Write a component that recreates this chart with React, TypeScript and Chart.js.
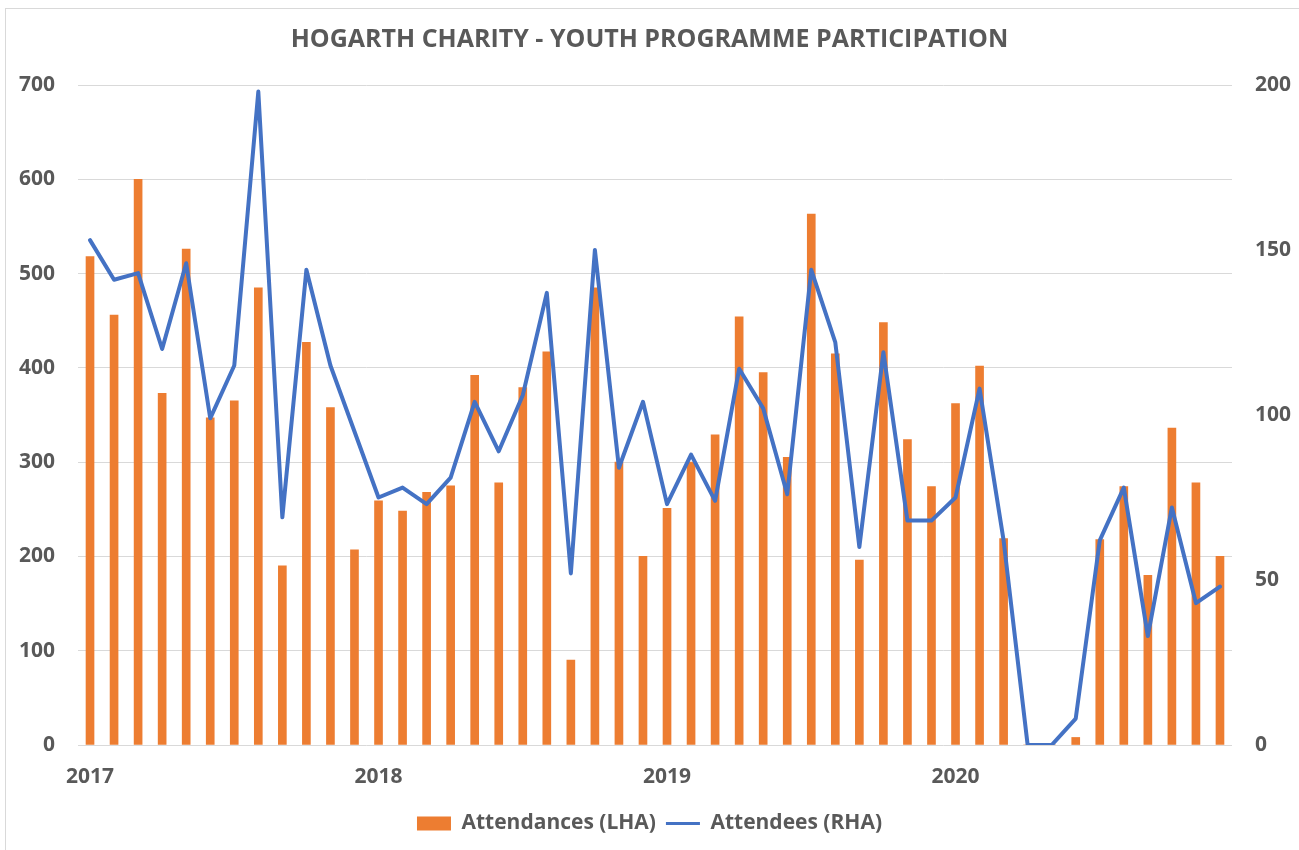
import React, { useEffect, useRef } from "react";
import { Chart, registerables } from "chart.js";

Chart.register(...registerables);

const years = ["2017", "2018", "2019", "2020"];
const monthNames = ["Jan", "Feb", "Mar", "Apr", "May", "Jun", "Jul", "Aug", "Sep", "Oct", "Nov", "Dec"];
const categories: string[] = years.flatMap((y) => monthNames.map((m) => `${m} ${y}`));

const attendances = [
  518, 456, 600, 373, 526, 347, 365, 485, 190, 427, 358, 207,
  259, 248, 268, 275, 392, 278, 379, 417, 90, 485, 300, 200,
  251, 300, 329, 454, 395, 305, 563, 415, 196, 448, 324, 274,
  362, 402, 219, 0, 0, 8, 218, 274, 180, 336, 278, 200,
];

const attendees = [
  153, 141, 143, 120, 146, 99, 115, 198, 69, 144, 115, 95,
  75, 78, 73, 81, 104, 89, 106, 137, 52, 150, 84, 104,
  73, 88, 74, 114, 102, 76, 144, 122, 60, 119, 68, 68,
  75, 108, 62, 0, 0, 8, 62, 78, 33, 72, 43, 48,
];

const leftTicks = { min: 0, max: 700, step: 100 };
const rightTicks = { min: 0, max: 200, step: 50 };

const TITLE = "HOGARTH CHARITY - YOUTH PROGRAMME PARTICIPATION";
const ORANGE = "#ED7D31";
const BLUE = "#4472C4";
const TEXT = "#595959";
const GRID = "#D9D9D9";

export default function App() {
  const ref = useRef<HTMLCanvasElement | null>(null);

  useEffect(() => {
    if (!ref.current) return;
    const tickFont = { family: "'Open Sans', sans-serif", size: 21, weight: "bold" as const };

    const borderPlugin = {
      id: "frame",
      beforeDraw(chart: any) {
        const ctx = chart.ctx;
        ctx.save();
        ctx.fillStyle = "#ffffff";
        ctx.fillRect(0, 0, chart.width, chart.height);
        ctx.strokeStyle = GRID;
        ctx.lineWidth = 1;
        ctx.strokeRect(5.5, 8.5, chart.width + 20, chart.height + 20);
        ctx.restore();
      },
    };

    const chart = new Chart(ref.current, {
      type: "bar",
      data: {
        labels: categories,
        datasets: [
          {
            type: "bar",
            label: "Attendances (LHA)",
            data: attendances,
            backgroundColor: ORANGE,
            borderWidth: 0,
            barThickness: 8,
            yAxisID: "y",
            order: 2,
          },
          {
            type: "line",
            label: "Attendees (RHA)",
            data: attendees,
            borderColor: BLUE,
            backgroundColor: BLUE,
            borderWidth: 4,
            pointRadius: 0,
            tension: 0,
            borderJoinStyle: "round",
            borderCapStyle: "round",
            yAxisID: "y1",
            order: 1,
          } as any,
        ],
      },
      options: {
        responsive: false,
        animation: false,
        devicePixelRatio: 1,
        layout: { padding: { left: 0, right: 0, top: 0, bottom: 6 } },
        plugins: {
          title: {
            display: true,
            text: TITLE,
            color: TEXT,
            font: { family: "'Open Sans', sans-serif", size: 25, weight: "bold" },
            padding: { top: 25, bottom: 30 },
          },
          legend: {
            position: "bottom",
            labels: {
              color: TEXT,
              font: { family: "'Open Sans', sans-serif", size: 21, weight: "bold" },
              usePointStyle: true,
              pointStyleWidth: 34,
              boxHeight: 14,
              padding: 10,
              sort: (a: any, b: any) => a.datasetIndex - b.datasetIndex,
              generateLabels: (c: any) => {
                const items = (Chart.defaults.plugins.legend.labels as any).generateLabels(c);
                items.forEach((it: any) => {
                  if (it.datasetIndex === 0) {
                    it.pointStyle = "rect";
                    it.lineWidth = 0;
                    it.fillStyle = ORANGE;
                  } else {
                    it.pointStyle = "line";
                    it.lineWidth = 3;
                    it.strokeStyle = BLUE;
                  }
                });
                return items;
              },
            },
          },
          tooltip: { enabled: false },
        },
        scales: {
          x: {
            type: "category",
            offset: true,
            grid: { display: false },
            border: { display: false },
            ticks: {
              autoSkip: false,
              maxRotation: 0,
              minRotation: 0,
              color: TEXT,
              font: tickFont,
              padding: 11,
              callback: (_v: any, i: number) => (i % 12 === 0 ? categories[i].split(" ")[1] : ""),
            },
            afterFit: (s: any) => {
              s.height = 58;
            },
          },
          y: {
            position: "left",
            min: leftTicks.min,
            max: leftTicks.max,
            ticks: { stepSize: leftTicks.step, color: TEXT, font: tickFont, padding: 23 },
            grid: { color: GRID, lineWidth: 1, drawTicks: false },
            border: { display: false },
            afterFit: (s: any) => {
              s.width = 78;
            },
          },
          y1: {
            position: "right",
            min: rightTicks.min,
            max: rightTicks.max,
            ticks: { stepSize: rightTicks.step, color: TEXT, font: tickFont, padding: 23 },
            grid: { drawOnChartArea: false, drawTicks: false },
            border: { display: false },
            afterFit: (s: any) => {
              s.width = 67;
            },
          },
        },
      },
      plugins: [borderPlugin],
    });

    return () => chart.destroy();
  }, []);

  return (
    <div style={{ position: "absolute", left: 0, top: 0, width: 1299, height: 850 }}>
      <canvas ref={ref} width={1299} height={850} style={{ display: "block" }} />
    </div>
  );
}
